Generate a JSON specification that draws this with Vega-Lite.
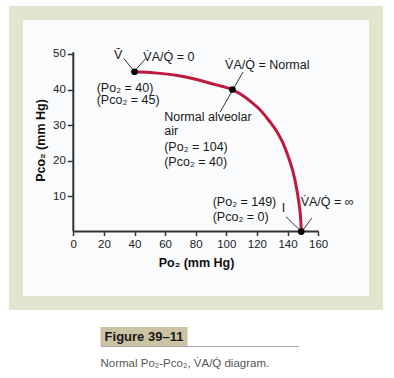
{
  "$schema": "https://vega.github.io/schema/vega-lite/v6.json",
  "padding": {"left": 9, "top": 6, "right": 11, "bottom": 6},
  "background": "#ffffff",
  "config": {"font": "Liberation Sans", "text": {"font": "Liberation Sans"}},
  "center": true,
  "spacing": 17,
  "datasets": {
    "axislines": [
      {"x": 0, "y": 0, "x2": 160.5, "y2": 0},
      {"x": 0, "y": 0, "x2": 0, "y2": 50.5}
    ],
    "curve": [
      {"x": 40, "y": 45}, {"x": 50, "y": 44.8}, {"x": 60, "y": 44.4}, {"x": 70, "y": 43.8},
      {"x": 80, "y": 42.9}, {"x": 90, "y": 41.7}, {"x": 97, "y": 40.9}, {"x": 104, "y": 40},
      {"x": 110, "y": 38.5}, {"x": 116, "y": 36.6}, {"x": 122, "y": 34.3}, {"x": 128, "y": 31.2},
      {"x": 133, "y": 28.2}, {"x": 137, "y": 25}, {"x": 140, "y": 21.7}, {"x": 143.5, "y": 17},
      {"x": 146, "y": 12}, {"x": 147.8, "y": 7}, {"x": 148.7, "y": 3}, {"x": 149, "y": 0}
    ],
    "points": [
      {"x": 40, "y": 45}, {"x": 104, "y": 40}, {"x": 149, "y": 0}
    ],
    "leaders": [
      {"x": 33, "y": 48.7, "x2": 39.6, "y2": 45.3},
      {"x": 47.2, "y": 48.7, "x2": 40.5, "y2": 45.4},
      {"x": 110.9, "y": 44.9, "x2": 95.9, "y2": 33.6},
      {"x": 139, "y": 4.2, "x2": 147.6, "y2": 0.6},
      {"x": 155.8, "y": 3.75, "x2": 150.4, "y2": 0.6}
    ],
    "labels": [
      {"t": "V̇A/Q̇ = 0", "x": 45.8, "y": 49.2},
      {"t": "(Po₂ = 40)", "x": 15.3, "y": 40.5},
      {"t": "(Pco₂ = 45)", "x": 15.3, "y": 37.0},
      {"t": "V̇A/Q̇ = Normal", "x": 99.2, "y": 46.9},
      {"t": "Normal alveolar", "x": 59.4, "y": 32.4},
      {"t": "air", "x": 59.4, "y": 28.2},
      {"t": "(Po₂ = 104)", "x": 59.4, "y": 23.9},
      {"t": "(Pco₂ = 40)", "x": 59.4, "y": 19.7},
      {"t": "(Po₂ = 149)", "x": 91.1, "y": 8.4},
      {"t": "(Pco₂ = 0)", "x": 91.1, "y": 4.2},
      {"t": "V̇A/Q̇ = ∞", "x": 148.6, "y": 8.4}
    ],
    "centered": [
      {"t": "V̄", "x": 29.4, "y": 49.7},
      {"t": "I", "x": 137.3, "y": 6.6}
    ],
    "caption": [
      {"k": "Figure 39–11"}
    ]
  },
  "vconcat": [
    {
      "width": 360,
      "height": 290,
      "view": {"fill": "#f9fbfd", "stroke": "#e0e6cd", "strokeWidth": 14},
      "encoding": {
        "x": {
          "field": "x",
          "type": "quantitative",
          "scale": {"domain": [-37.45, 197.84], "nice": false, "zero": false},
          "axis": {
            "values": [0, 20, 40, 60, 80, 100, 120, 140, 160],
            "offset": -71.4,
            "domain": false,
            "grid": false,
            "tickColor": "#333333",
            "tickWidth": 1.5,
            "tickSize": 4,
            "labelFontSize": 11.5,
            "labelColor": "#222222",
            "labelPadding": 3,
            "labelFlush": false,
            "labelOverlap": false,
            "labelBound": false,
            "title": "Po₂ (mm Hg)",
            "titleFontSize": 12.5,
            "titleFontWeight": "bold",
            "titleColor": "#111111",
            "titlePadding": 6
          }
        },
        "y": {
          "field": "y",
          "type": "quantitative",
          "scale": {"domain": [-20.1, 61.54], "nice": false, "zero": false},
          "axis": {
            "values": [10, 20, 30, 40, 50],
            "offset": -57.3,
            "domain": false,
            "grid": false,
            "tickColor": "#333333",
            "tickWidth": 1.5,
            "tickSize": 6,
            "labelFontSize": 11.5,
            "labelColor": "#222222",
            "labelPadding": 2,
            "labelFlush": false,
            "labelOverlap": false,
            "labelBound": false,
            "title": "Pco₂ (mm Hg)",
            "titleFontSize": 12.5,
            "titleFontWeight": "bold",
            "titleColor": "#111111",
            "titlePadding": 5,
            "titleY": 127
          }
        }
      },
      "layer": [
        {
          "data": {"name": "axislines"},
          "mark": {"type": "rule", "stroke": "#333333", "strokeWidth": 2},
          "encoding": {"x2": {"field": "x2"}, "y2": {"field": "y2"}}
        },
        {
          "data": {"name": "curve"},
          "mark": {"type": "line", "color": "#bc1b3e", "strokeWidth": 3, "interpolate": "monotone"},
          "encoding": {}
        },
        {
          "data": {"name": "leaders"},
          "mark": {"type": "rule", "stroke": "#333333", "strokeWidth": 1},
          "encoding": {"x2": {"field": "x2"}, "y2": {"field": "y2"}}
        },
        {
          "data": {"name": "points"},
          "mark": {"type": "circle", "color": "#000000", "opacity": 1, "size": 45},
          "encoding": {}
        },
        {
          "data": {"name": "labels"},
          "mark": {"type": "text", "align": "left", "baseline": "middle", "fontSize": 12.5, "color": "#1a1a1a"},
          "encoding": {"text": {"field": "t"}}
        },
        {
          "data": {"name": "centered"},
          "mark": {"type": "text", "align": "center", "baseline": "middle", "fontSize": 12.5, "color": "#1a1a1a"},
          "encoding": {"text": {"field": "t"}}
        }
      ]
    },
    {
      "width": 198,
      "height": 19,
      "view": {"fill": null, "stroke": null},
      "data": {"name": "caption"},
      "title": {
        "text": "Normal Po₂-Pco₂, V̇A/Q̇ diagram.",
        "orient": "bottom",
        "anchor": "start",
        "frame": "group",
        "offset": 12,
        "font": "Liberation Sans",
        "fontSize": 11.5,
        "fontWeight": "normal",
        "color": "#555555"
      },
      "encoding": {
        "x": {
          "field": "k",
          "type": "nominal",
          "scale": {"paddingInner": 0, "paddingOuter": 0.638, "align": 0},
          "axis": {
            "orient": "bottom",
            "domain": true,
            "domainColor": "#a8a8a8",
            "domainWidth": 1,
            "ticks": false,
            "labels": false,
            "grid": false,
            "title": null
          }
        }
      },
      "layer": [
        {"mark": {"type": "bar", "color": "#cbc3a3"}},
        {
          "mark": {"type": "text", "font": "Liberation Sans", "fontWeight": "bold", "fontSize": 13, "color": "#1a1a1a"},
          "encoding": {"text": {"field": "k"}}
        }
      ]
    }
  ]
}
